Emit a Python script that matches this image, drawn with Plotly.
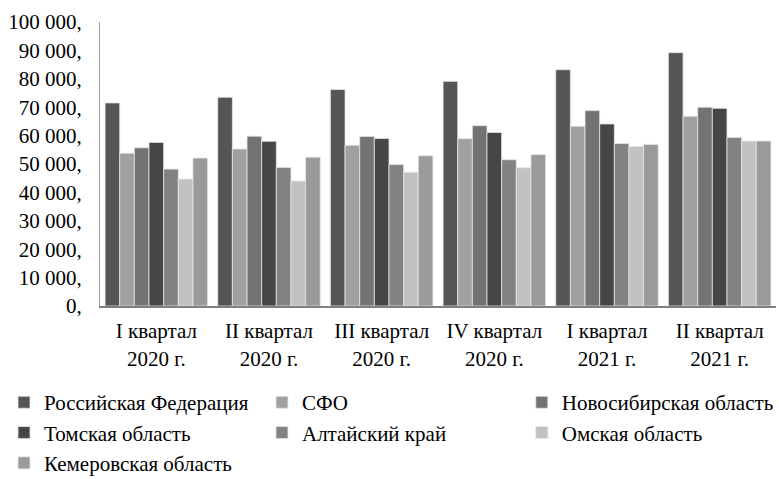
import plotly.graph_objects as go

categories = ["I квартал<br>2020 г.", "II квартал<br>2020 г.", "III квартал<br>2020 г.",
              "IV квартал<br>2020 г.", "I квартал<br>2021 г.", "II квартал<br>2021 г."]

series_names = ["Российская Федерация", "СФО", "Новосибирская область",
                "Томская область", "Алтайский край", "Омская область", "Кемеровская область"]

rf = [71500, 73500, 76200, 79100, 83200, 89200]
sfo = [53800, 55300, 56600, 58900, 63300, 66800]
nso = [55700, 59800, 59700, 63500, 68800, 70000]
tomsk = [57600, 58000, 59000, 61100, 64100, 69600]
altai = [48200, 48800, 49800, 51500, 57200, 59300]
omsk = [44700, 44000, 47100, 48700, 56200, 58100]
kemerovo = [52100, 52400, 52900, 53300, 56900, 58100]

tick_vals = [0, 10000, 20000, 30000, 40000, 50000, 60000, 70000, 80000, 90000, 100000]
tick_text = ["0,", "10 000,", "20 000,", "30 000,", "40 000,", "50 000,",
             "60 000,", "70 000,", "80 000,", "90 000,", "100 000,"]

colors = ["#555555", "#a0a0a0", "#737373", "#464646", "#828282", "#c2c2c2", "#9a9a9a"]
# legend column each series is listed in (as in the reference's 3-column legend)
legend_ids = ["legend", "legend2", "legend3", "legend", "legend2", "legend3", "legend"]

all_series = [rf, sfo, nso, tomsk, altai, omsk, kemerovo]

FONT = '"Liberation Serif", serif'
LEG_FONT = dict(family=FONT, size=21, color="black")

fig = go.Figure()
for name, vals, col, lg in zip(series_names, all_series, colors, legend_ids):
    fig.add_trace(go.Bar(
        x=categories, y=vals, name=name, legend=lg,
        marker=dict(color=col, line=dict(color="#e6e6e6", width=0.8)),
    ))

leg_common = dict(orientation="v", y=-0.268, yanchor="top", xanchor="left",
                  font=LEG_FONT, itemwidth=30, tracegroupgap=0,
                  bgcolor="rgba(0,0,0,0)", traceorder="normal")

fig.update_layout(
    width=779, height=479,
    barmode="group", bargap=0.09, bargroupgap=0,
    plot_bgcolor="white", paper_bgcolor="white",
    margin=dict(l=100, r=3, t=22, b=173, autoexpand=False),
    font=dict(family=FONT, size=18, color="black"),
    showlegend=True,
    legend=dict(x=-0.142, **leg_common),
    legend2=dict(x=0.2396, **leg_common),
    legend3=dict(x=0.624, **leg_common),
    xaxis=dict(
        showline=True, linecolor="#808080", linewidth=2,
        ticks="", tickfont=dict(size=21), showgrid=False, automargin=False,
        ticklabelstandoff=5,
    ),
    yaxis=dict(
        range=[0, 100000], tickvals=tick_vals, ticktext=tick_text,
        showline=True, linecolor="#a0a0a0", linewidth=1,
        showgrid=False, zeroline=False, ticks="", automargin=False,
        tickfont=dict(size=21), ticklabelstandoff=13,
    ),
)

fig.write_html("out.html", config={"displayModeBar": False},
               post_script="document.body.style.margin='0';")
